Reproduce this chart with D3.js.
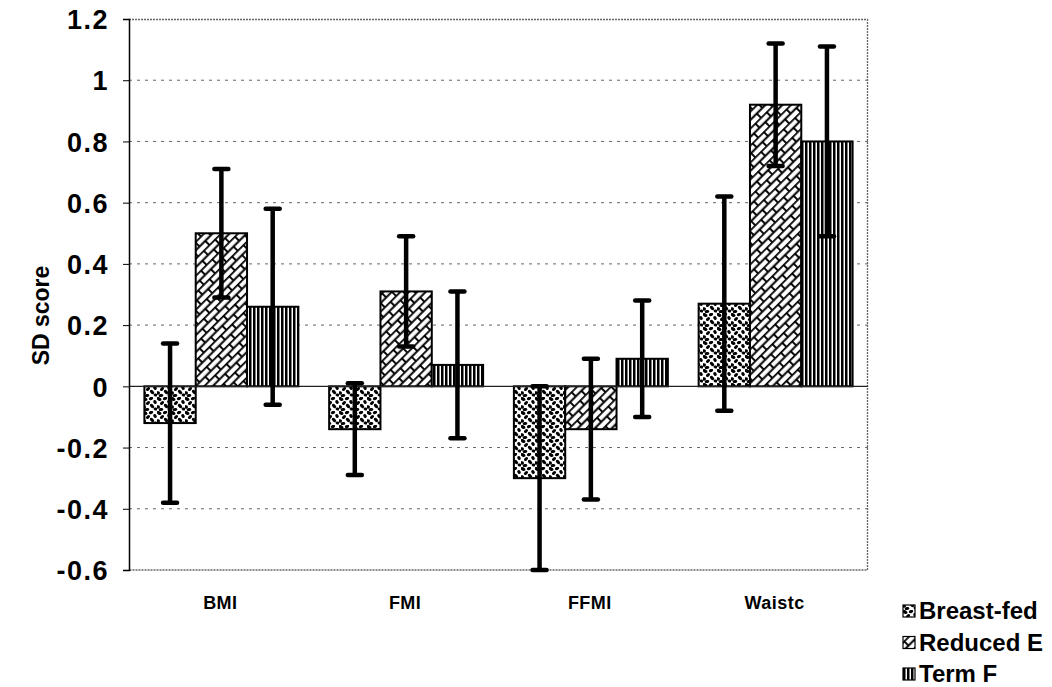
<!DOCTYPE html>
<html>
<head>
<meta charset="utf-8">
<script src="https://cdn.jsdelivr.net/npm/d3@7"></script>
<style>
  body { margin: 0; background: #fff; }
  text { font-family: "Liberation Sans", Arial, sans-serif; font-weight: bold; fill: #000; }
</style>
</head>
<body>
<svg width="1052" height="687"></svg>
<script>
// Data
const categories = ['BMI', 'FMI', 'FFMI', 'Waistc'];
const seriesNames = ['Breast-fed', 'Reduced E', 'Term F'];
const breastFed = [-0.12, -0.14, -0.30, 0.27];
const reducedE = [0.50, 0.31, -0.14, 0.92];
const termF = [0.26, 0.07, 0.09, 0.80];
const breastFedErr = [0.26, 0.15, 0.30, 0.35];
const reducedEErr = [0.21, 0.18, 0.23, 0.20];
const termFErr = [0.32, 0.24, 0.19, 0.31];
const yTicks = [-0.6, -0.4, -0.2, 0, 0.2, 0.4, 0.6, 0.8, 1, 1.2];

const svg = d3.select('svg');
const margin = { left: 129, right: 184, top: 19, bottom: 117 };
const width = +svg.attr('width');
const height = +svg.attr('height');
const innerWidth = width - margin.left - margin.right;
const innerHeight = height - margin.top - margin.bottom;

// Patterns
const defs = svg.append('defs');

// speckled pattern for Breast-fed
const speck = defs.append('pattern')
    .attr('id', 'pat0')
    .attr('patternUnits', 'userSpaceOnUse')
    .attr('width', 14).attr('height', 14);
speck.append('rect').attr('width', 14).attr('height', 14).attr('fill', '#fff');
const blobs = [[2,2,2.6,1.7,30],[8,1.5,2.2,1.5,-20],[12,5,2,1.6,60],[5,6,2.4,1.5,-40],
               [1,10,2,1.7,10],[9,9,2.6,1.6,45],[4,12.5,2.3,1.5,-10],[12.5,12,1.9,1.5,20]];
blobs.forEach(b => speck.append('ellipse')
    .attr('cx', b[0]).attr('cy', b[1]).attr('rx', b[2]).attr('ry', b[3])
    .attr('transform', `rotate(${b[4]},${b[0]},${b[1]})`)
    .attr('fill', '#000'));

// diagonal brick pattern for Reduced E
const brick = defs.append('pattern')
    .attr('id', 'pat1')
    .attr('patternUnits', 'userSpaceOnUse')
    .attr('width', 16).attr('height', 12)
    .attr('patternTransform', 'rotate(-45)');
brick.append('rect').attr('width', 16).attr('height', 12).attr('fill', '#fff');
brick.append('path')
    .attr('d', 'M0,0.8H16M0,6.8H16M1,0V6M9,6V12')
    .attr('stroke', '#000').attr('stroke-width', 1.9).attr('fill', 'none');

// vertical line pattern for Term F
const vert = defs.append('pattern')
    .attr('id', 'pat2')
    .attr('patternUnits', 'userSpaceOnUse')
    .attr('width', 4).attr('height', 4);
vert.append('rect').attr('width', 4).attr('height', 4).attr('fill', '#fff');
vert.append('rect').attr('x', 0).attr('width', 2.5).attr('height', 4).attr('fill', '#000');

const g = svg.append('g')
    .attr('transform', `translate(${margin.left},${margin.top})`);

const yScale = d3.scaleLinear()
    .domain([-0.6, 1.2])
    .range([innerHeight, 0]);

const xScale = d3.scaleBand()
    .domain(categories)
    .range([0, innerWidth])
    .paddingInner(0)
    .paddingOuter(0);

const groupInner = 0.6 / 3.6;
const xSub = d3.scaleBand()
    .domain(seriesNames)
    .range([xScale.bandwidth() * groupInner / 2, xScale.bandwidth() * (1 - groupInner / 2)]);

// grid lines
g.append('g')
    .selectAll('line')
    .data(yTicks.filter(t => t !== 0 && t !== 1.2 && t !== -0.6))
    .enter()
    .append('line')
    .attr('x1', 0).attr('x2', innerWidth)
    .attr('y1', d => yScale(d)).attr('y2', d => yScale(d))
    .attr('stroke', '#666').attr('stroke-width', 1)
    .attr('stroke-dasharray', '3,5');

// plot border (top, right, bottom)
g.append('path')
    .attr('d', `M0,0.5H${innerWidth - 0.5}V${innerHeight}H0`)
    .attr('fill', 'none')
    .attr('stroke', '#666').attr('stroke-width', 1.3)
    .attr('stroke-dasharray', '2,1');

// bars
const series = [
    { name: seriesNames[0], values: breastFed, err: breastFedErr },
    { name: seriesNames[1], values: reducedE, err: reducedEErr },
    { name: seriesNames[2], values: termF, err: termFErr }
];

series.forEach((s, si) => {
    const rows = categories.map((c, i) => ({ cat: c, v: s.values[i], e: s.err[i] }));
    g.append('g')
        .selectAll('rect')
        .data(rows)
        .enter()
        .append('rect')
        .attr('x', d => xScale(d.cat) + xSub(s.name))
        .attr('width', xSub.bandwidth())
        .attr('y', d => yScale(Math.max(0, d.v)))
        .attr('height', d => Math.abs(yScale(d.v) - yScale(0)))
        .attr('fill', `url(#pat${si})`)
        .attr('stroke', '#000')
        .attr('stroke-width', 2);
});

// zero line
g.append('line')
    .attr('x1', 0).attr('x2', innerWidth)
    .attr('y1', yScale(0)).attr('y2', yScale(0))
    .attr('stroke', '#222').attr('stroke-width', 1.2);

// error bars
series.forEach(s => {
    const rows = categories.map((c, i) => ({ cat: c, v: s.values[i], e: s.err[i] }));
    const eg = g.append('g');
    const cx = d => xScale(d.cat) + xSub(s.name) + xSub.bandwidth() / 2;
    eg.selectAll('line.stem')
        .data(rows)
        .enter()
        .append('line')
        .attr('class', 'stem')
        .attr('x1', cx).attr('x2', cx)
        .attr('y1', d => yScale(d.v + d.e))
        .attr('y2', d => yScale(d.v - d.e))
        .attr('stroke', '#000').attr('stroke-width', 4.5);
    [1, -1].forEach(sign => {
        eg.selectAll(null)
            .data(rows)
            .enter()
            .append('line')
            .attr('x1', d => cx(d) - 7).attr('x2', d => cx(d) + 7)
            .attr('y1', d => yScale(d.v + sign * d.e))
            .attr('y2', d => yScale(d.v + sign * d.e))
            .attr('stroke', '#000').attr('stroke-width', 4.5)
            .attr('stroke-linecap', 'round');
    });
});

// y-axis
const yAxis = d3.axisLeft(yScale)
    .tickValues(yTicks)
    .tickSize(6)
    .tickFormat(d => String(+d.toFixed(1)));
const yAxisGroup = g.append('g').call(yAxis);
yAxisGroup.attr('font-size', null).attr('font-family', null);
yAxisGroup.select('.domain').attr('stroke', '#000').attr('stroke-width', 1.5);
yAxisGroup.selectAll('.tick line').attr('stroke', '#000');
yAxisGroup.selectAll('.tick text')
    .attr('x', -20)
    .attr('dy', '0.36em')
    .attr('font-size', 27)
    .style('letter-spacing', '1.5px');

// y-axis title
g.append('text')
    .attr('transform', 'rotate(-90)')
    .attr('x', -(yScale(0.3) + 21))
    .attr('y', -80)
    .attr('text-anchor', 'middle')
    .attr('font-size', 23)
    .text('SD score');

// x category labels
g.append('g')
    .selectAll('text')
    .data(categories)
    .enter()
    .append('text')
    .attr('x', d => xScale(d) + xScale.bandwidth() / 2 - 1)
    .attr('y', innerHeight + 39)
    .attr('text-anchor', 'middle')
    .attr('font-size', 18)
    .style('letter-spacing', '0.5px')
    .text(d => d);

// legend
const legend = svg.append('g')
    .attr('transform', 'translate(903,610)');
seriesNames.forEach((name, i) => {
    const item = legend.append('g').attr('transform', `translate(0,${i * 31.5})`);
    item.append('rect')
        .attr('x', 0).attr('y', -5)
        .attr('width', 12).attr('height', 12)
        .attr('fill', `url(#pat${i})`)
        .attr('stroke', '#000').attr('stroke-width', 1.2);
    item.append('text')
        .attr('x', 16).attr('y', 9)
        .attr('font-size', 24)
        .text(name);
});
</script>
</body>
</html>
